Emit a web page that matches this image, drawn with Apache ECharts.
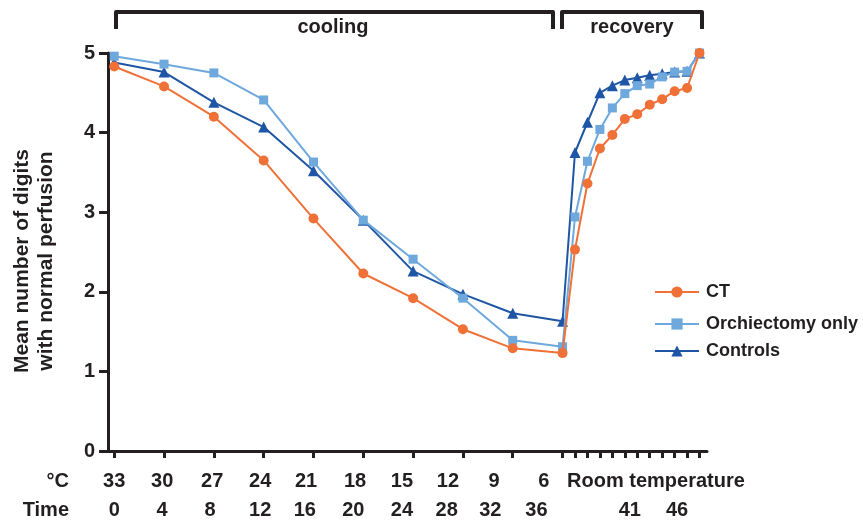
<!DOCTYPE html>
<html>
<head>
<meta charset="utf-8">
<script src="https://cdn.jsdelivr.net/npm/echarts@6/dist/echarts.min.js"></script>
<style>
  html, body { margin: 0; padding: 0; background: #fff; }
  #chart { width: 863px; height: 521px; }
</style>
</head>
<body>
<div id="chart"></div>
<script>
// ---- data ----
const times = [0, 4, 8, 12, 16, 20, 24, 28, 32, 36, 37, 38, 39, 40, 41, 42, 43, 44, 45, 46, 47];
const ct = [4.83, 4.58, 4.20, 3.65, 2.92, 2.23, 1.92, 1.53, 1.29, 1.23, 2.53, 3.36, 3.80, 3.97, 4.17, 4.23, 4.35, 4.42, 4.52, 4.56, 5.0];
const orchiectomy = [4.96, 4.86, 4.75, 4.41, 3.63, 2.90, 2.41, 1.92, 1.39, 1.31, 2.94, 3.64, 4.04, 4.31, 4.49, 4.59, 4.61, 4.70, 4.76, 4.77, 5.0];
const controls = [4.88, 4.76, 4.38, 4.07, 3.52, 2.90, 2.26, 1.97, 1.73, 1.63, 3.75, 4.13, 4.50, 4.59, 4.66, 4.69, 4.72, 4.74, 4.76, 4.77, 5.0];
const seriesNames = ['CT', 'Orchiectomy only', 'Controls'];
const tickValues = [0, 4, 8, 12, 16, 20, 24, 28, 32, 36, 37, 38, 39, 40, 41, 42, 43, 44, 45, 46, 47];
const tempLabels = ['33', '30', '27', '24', '21', '18', '15', '12', '9', '6', 'Room temperature'];
const timeLabels = ['0', '4', '8', '12', '16', '20', '24', '28', '32', '36', '41', '46'];
const yTicks = [0, 1, 2, 3, 4, 5];

// label anchor positions along the time axis (layout)
const tempLabelAt = [0, 3.85, 7.87, 11.72, 15.4, 19.34, 23.1, 26.8, 30.5, 34.5, 43.5];
const timeLabelAt = [0, 3.85, 7.7, 11.72, 15.3, 19.2, 23.1, 26.7, 30.2, 33.9, 41.4, 45.2];

const FONT = '"Liberation Sans", Arial, Helvetica, sans-serif';
const INK = '#231F20';
const colors = ['#F07138', '#6FA8DC', '#1F55A5'];
const symbols = ['circle', 'rect', 'triangle'];
const symbolSizes = [10, 9, 11];
const values = [ct, orchiectomy, controls];

function pick(labels, at) {
  return function (v) {
    let best = 0, d = Infinity;
    for (let i = 0; i < at.length; i++) {
      const dd = Math.abs(at[i] - v);
      if (dd < d) { d = dd; best = i; }
    }
    return labels[best];
  };
}

const XMIN = -0.5, XMAX = 47.6;
const labelStyle = { fontFamily: FONT, fontWeight: 'bold', fontSize: 20, color: INK };

const chart = echarts.init(document.getElementById('chart'), null, { renderer: 'canvas' });

const series = seriesNames.map((name, k) => ({
  name: name,
  type: 'line',
  xAxisIndex: 0,
  yAxisIndex: 0,
  data: times.map((t, i) => [t, values[k][i]]),
  symbol: symbols[k],
  symbolSize: symbolSizes[k],
  showSymbol: true,
  lineStyle: { color: colors[k], width: 2 },
  itemStyle: { color: colors[k], borderWidth: 0 },
  z: [4, 3, 2][k],
  animation: false
}));

const legendTops = [278, 310, 337];
const legends = seriesNames.map((name, k) => ({
  data: [name],
  left: 649,
  top: legendTops[k],
  itemWidth: 44,
  itemHeight: 14,
  itemGap: 10,
  textStyle: { fontFamily: FONT, fontWeight: 'bold', fontSize: 18, color: INK, padding: [0, 0, 0, 2] },
  selectedMode: false
}));

chart.setOption({
  animation: false,
  color: colors,
  grid: { left: 108, right: 156, top: 53, bottom: 70, containLabel: false },
  legend: legends,
  xAxis: [
    {
      type: 'value', min: XMIN, max: XMAX, position: 'bottom',
      axisLine: { show: true, onZero: false, lineStyle: { color: INK, width: 3 } },
      axisTick: { show: true, inside: false, length: 7, lineStyle: { color: INK, width: 3 }, customValues: tickValues },
      axisLabel: { show: false },
      splitLine: { show: false }
    },
    {
      type: 'value', min: XMIN, max: XMAX, position: 'bottom',
      axisLine: { show: false }, axisTick: { show: false }, splitLine: { show: false },
      axisLabel: Object.assign({ show: true, margin: 20, customValues: tempLabelAt, formatter: pick(tempLabels, tempLabelAt), hideOverlap: false }, labelStyle)
    },
    {
      type: 'value', min: XMIN, max: XMAX, position: 'bottom',
      axisLine: { show: false }, axisTick: { show: false }, splitLine: { show: false },
      axisLabel: Object.assign({ show: true, margin: 49, customValues: timeLabelAt, formatter: pick(timeLabels, timeLabelAt), hideOverlap: false }, labelStyle)
    }
  ],
  yAxis: {
    type: 'value', min: 0, max: 5, interval: 1,
    name: 'Mean number of digits\nwith normal perfusion',
    nameLocation: 'middle', nameRotate: 90, nameGap: 50,
    nameTextStyle: { fontFamily: FONT, fontWeight: 'bold', fontSize: 21, color: INK, lineHeight: 24, padding: [0, 18, 0, 0] },
    axisLine: { show: true, onZero: false, lineStyle: { color: INK, width: 3 } },
    axisTick: { show: true, inside: false, length: 9, lineStyle: { color: INK, width: 3 } },
    axisLabel: Object.assign({ margin: 13, customValues: yTicks }, labelStyle),
    splitLine: { show: false }
  },
  graphic: [
    { type: 'polyline', shape: { points: [[116, 29], [116, 12], [553, 12], [553, 29]] }, style: { stroke: INK, lineWidth: 4, fill: null, lineJoin: 'round' } },
    { type: 'polyline', shape: { points: [[562, 29], [562, 12], [702, 12], [702, 29]] }, style: { stroke: INK, lineWidth: 4, fill: null, lineJoin: 'round' } },
    { type: 'text', x: 333, y: 27, style: { text: 'cooling', fontFamily: FONT, fontWeight: 'bold', fontSize: 20, fill: INK, align: 'center', verticalAlign: 'middle' } },
    { type: 'text', x: 632, y: 27, style: { text: 'recovery', fontFamily: FONT, fontWeight: 'bold', fontSize: 20, fill: INK, align: 'center', verticalAlign: 'middle' } },
    { type: 'text', x: 69, y: 481, style: { text: '°C', fontFamily: FONT, fontWeight: 'bold', fontSize: 20, fill: INK, align: 'right', verticalAlign: 'middle' } },
    { type: 'text', x: 69, y: 510, style: { text: 'Time', fontFamily: FONT, fontWeight: 'bold', fontSize: 20, fill: INK, align: 'right', verticalAlign: 'middle' } }
  ],
  series: series
});
</script>
</body>
</html>
